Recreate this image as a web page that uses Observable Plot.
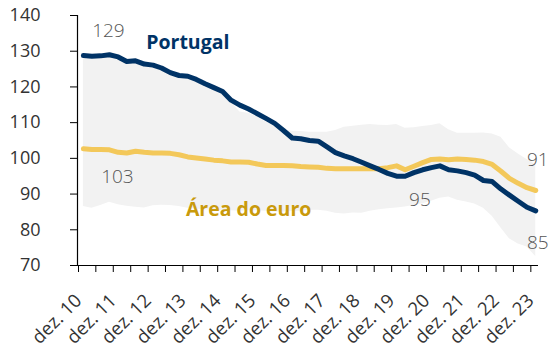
<!DOCTYPE html>
<html>
<head>
<meta charset="utf-8">
<script src="https://cdn.jsdelivr.net/npm/d3@7"></script>
<script src="https://cdn.jsdelivr.net/npm/@observablehq/plot@0.6"></script>
<style>
  html, body { margin: 0; padding: 0; background: #fff; }
  #chart svg { display: block; }
</style>
</head>
<body>
<div id="chart"></div>
<script>
// Quarterly observations, mid-quarter months: Feb 2011 ... Feb 2024
const periods = d3.range(53).map(i => new Date(2011, 1 + 3 * i, 1));

const portugal = [
  128.8, 128.6, 128.7, 129.0, 128.4, 127.1, 127.3, 126.4, 126.1, 125.3,
  124.0, 123.2, 123.0, 122.1, 120.9, 119.8, 118.7, 116.3, 114.9, 113.8,
  112.5, 111.2, 109.8, 107.8, 105.7, 105.5, 105.0, 104.8, 103.2, 101.6,
  100.7, 99.9, 98.9, 97.9, 96.9, 95.8, 95.0, 95.0, 96.0, 96.8,
  97.4, 97.9, 96.8, 96.5, 96.0, 95.3, 93.8, 93.5, 91.4, 89.7,
  88.0, 86.3, 85.3
];

const euroArea = [
  102.7, 102.5, 102.5, 102.4, 101.7, 101.5, 102.0, 101.7, 101.5, 101.5,
  101.4, 101.0, 100.4, 100.1, 99.8, 99.5, 99.3, 99.0, 99.0, 98.9,
  98.4, 98.0, 98.0, 98.0, 97.9, 97.7, 97.6, 97.5, 97.2, 97.1,
  97.1, 97.1, 97.1, 97.1, 97.1, 97.4, 97.9, 96.8, 97.8, 98.8,
  99.7, 99.8, 99.6, 99.8, 99.7, 99.5, 99.1, 98.3, 96.4, 94.4,
  93.0, 91.8, 91.0
];

const bandHigh = [
  128.8, 128.6, 128.7, 129.0, 128.4, 127.1, 127.3, 126.4, 126.1, 125.3,
  124.0, 123.2, 123.0, 122.1, 120.9, 119.8, 118.5, 115.8, 113.0, 112.6,
  111.6, 110.2, 109.0, 108.0, 107.6, 107.5, 107.3, 107.3, 107.3, 107.8,
  108.7, 109.0, 109.3, 109.5, 109.3, 109.2, 109.5, 108.4, 108.6, 108.9,
  109.2, 109.7, 108.0, 107.0, 107.0, 107.0, 107.1, 106.8, 105.9, 103.0,
  101.2, 99.7, 98.3
];

const bandLow = [
  86.5, 86.0, 86.8, 87.7, 87.0, 86.6, 86.3, 86.1, 86.7, 86.9,
  86.8, 86.5, 86.0, 85.8, 85.6, 85.5, 85.4, 85.3, 85.2, 85.3,
  85.3, 85.2, 85.0, 85.0, 85.1, 85.2, 85.5, 85.5, 85.2, 84.6,
  84.4, 84.7, 84.6, 85.2, 85.6, 85.9, 86.1, 86.4, 86.8, 87.3,
  88.0, 88.8, 89.2, 88.3, 87.8, 87.2, 86.0, 83.8, 80.5, 77.5,
  76.0, 75.2, 72.5
];

const yTicks = [70, 80, 90, 100, 110, 120, 130, 140];
const xTickDates = d3.range(27).map(i => new Date(2010, 11 + 6 * i, 1));
const xTickLabel = d => d.getMonth() === 11 ? "dez. " + String(d.getFullYear()).slice(2) : "";

// value annotations attached to data points
const valueNotes = [
  {series: "pt", i: 0, text: "129", dx: 25, dy: -25},
  {series: "eu", i: 0, text: "103", dx: 34, dy: 28},
  {series: "pt", i: 38, text: "95", dx: 6, dy: 27},
  {series: "eu", i: 52, text: "91", dx: 2, dy: -31},
  {series: "pt", i: 52, text: "85", dx: 2, dy: 32}
];
const seriesNames = [
  {series: "pt", i: 12, text: "Portugal", color: "#003366", dx: 0, dy: -33},
  {series: "eu", i: 19, text: "Área do euro", color: "#c99a0c", dx: 0, dy: 47}
];

const rows = periods.map((date, i) => ({
  date, pt: portugal[i], eu: euroArea[i], hi: bandHigh[i], lo: bandLow[i]
}));
const noteRow = n => ({...n, date: periods[n.i], value: n.series === "pt" ? portugal[n.i] : euroArea[n.i]});

const xDomain = [new Date(2010, 11, 1), new Date(2024, 2, 1)];

const noteMarks = valueNotes.map(n => Plot.text([noteRow(n)], {
  x: "date", y: "value", text: "text", dx: n.dx, dy: n.dy,
  fontSize: 19, fill: "#555", fontWeight: 300
}));
const nameMarks = seriesNames.map(n => Plot.text([noteRow(n)], {
  x: "date", y: "value", text: "text", dx: n.dx, dy: n.dy,
  fontSize: 19.5, fill: n.color, fontWeight: "bold"
}));

const chart = Plot.plot({
  width: 555,
  height: 352,
  marginLeft: 77,
  marginRight: 17,
  marginTop: 15,
  marginBottom: 87,
  style: {fontFamily: "'Open Sans', sans-serif", background: "#fff", overflow: "visible"},
  x: {type: "time", domain: xDomain},
  y: {domain: [70, 140]},
  marks: [
    Plot.areaY(rows, {x: "date", y1: "lo", y2: "hi", fill: "#f2f2f2"}),
    Plot.lineY(rows, {x: "date", y: "eu", stroke: "#f3c85a", strokeWidth: 5, strokeLinejoin: "round"}),
    Plot.lineY(rows, {x: "date", y: "pt", stroke: "#003366", strokeWidth: 5, strokeLinejoin: "round"}),
    Plot.ruleX([xDomain[0]], {stroke: "#000", strokeWidth: 1.2}),
    Plot.ruleY([70], {stroke: "#000", strokeWidth: 1.2}),
    Plot.axisY({ticks: yTicks, tickSize: 7, tickPadding: 30, fontSize: 18, fill: "#333", stroke: "#000"}),
    Plot.axisX({ticks: xTickDates, tickSize: 7, tickFormat: xTickLabel, tickRotate: -45, fontSize: 18.5, fill: "#333", stroke: "#000", tickPadding: 25, dx: 1}),
    ...noteMarks,
    ...nameMarks
  ]
});

document.getElementById("chart").append(chart);
</script>
</body>
</html>
